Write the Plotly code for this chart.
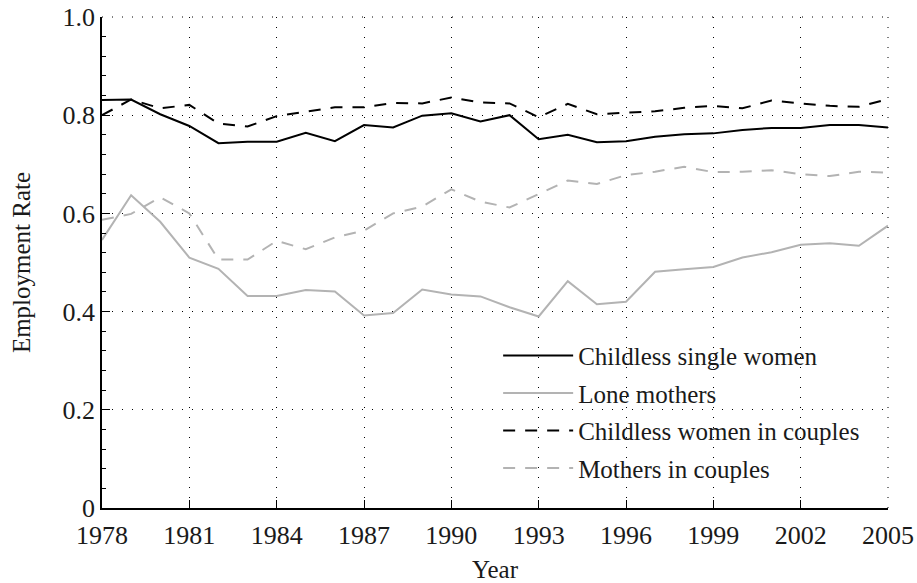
import plotly.graph_objects as go

years = list(range(1978, 2006))

childless_single = [0.831, 0.832, 0.802, 0.778, 0.743, 0.746, 0.746, 0.764, 0.747, 0.780,
                    0.775, 0.799, 0.804, 0.787, 0.800, 0.751, 0.760, 0.745, 0.747, 0.756,
                    0.761, 0.763, 0.770, 0.774, 0.774, 0.780, 0.780, 0.775]
lone_mothers = [0.546, 0.637, 0.583, 0.510, 0.487, 0.432, 0.432, 0.444, 0.441, 0.392,
                0.397, 0.445, 0.435, 0.431, 0.409, 0.390, 0.462, 0.415, 0.420, 0.481,
                0.486, 0.491, 0.510, 0.521, 0.536, 0.539, 0.534, 0.575]
childless_couples = [0.800, 0.832, 0.814, 0.821, 0.783, 0.777, 0.798, 0.807, 0.816, 0.816,
                     0.825, 0.824, 0.836, 0.826, 0.824, 0.796, 0.823, 0.802, 0.805, 0.808,
                     0.815, 0.819, 0.814, 0.830, 0.824, 0.819, 0.817, 0.833]
mothers_couples = [0.587, 0.599, 0.633, 0.600, 0.506, 0.506, 0.544, 0.527, 0.551, 0.565,
                   0.600, 0.614, 0.649, 0.624, 0.612, 0.640, 0.667, 0.660, 0.678, 0.685,
                   0.695, 0.684, 0.685, 0.688, 0.680, 0.676, 0.685, 0.683]

series_names = ["Childless single women", "Lone mothers",
                "Childless women in couples", "Mothers in couples"]
series_values = [childless_single, lone_mothers, childless_couples, mothers_couples]
series_colors = ["#000000", "#b3b3b3", "#000000", "#b3b3b3"]
series_dash = ["solid", "solid", "12px,10px", "12px,10px"]

x_ticks = list(range(1978, 2006, 3))
y_ticks = [0, 0.2, 0.4, 0.6, 0.8, 1.0]
y_ticktext = ["0", "0.2", "0.4", "0.6", "0.8", "1.0"]

FONT = "Liberation Serif"
FS = 25
TICK_FS = 26
TXT = "#1a1a1a"

fig = go.Figure()
for i, (name, vals, col, dsh) in enumerate(zip(series_names, series_values, series_colors, series_dash)):
    fig.add_trace(go.Scatter(
        x=years, y=vals, mode="lines", name=name, legendgroup=f"g{i}",
        line=dict(color=col, width=2, dash=dsh),
    ))

axis_common = dict(
    showline=True, linecolor="black", linewidth=1.5,
    ticks="inside", tickcolor="black", tickwidth=1, ticklen=8,
    showgrid=True, gridcolor="black", gridwidth=1, griddash="1px,9px",
    zeroline=False, mirror=False, automargin=False, ticklabeloverflow="allow",
    tickfont=dict(family=FONT, size=TICK_FS, color=TXT),
)

fig.update_xaxes(
    range=[1978, 2005], tickvals=x_ticks, ticklabelstandoff=3,
    title=dict(text="Year", font=dict(family=FONT, size=FS, color=TXT), standoff=20),
    **axis_common,
)
fig.update_yaxes(
    range=[0, 1], tickvals=y_ticks, ticktext=y_ticktext,
    title=dict(text="Employment Rate", font=dict(family=FONT, size=FS, color=TXT), standoff=25),
    minor=dict(dtick=0.04, tick0=0, ticks="inside", ticklen=4, tickcolor="black", showgrid=False),
    **axis_common,
)

# dotted frame at top and right (styling only)
fig.add_shape(type="line", xref="paper", yref="paper", x0=0, x1=1, y0=1, y1=1,
              line=dict(color="black", width=1, dash="1px,9px"))
fig.add_shape(type="line", xref="paper", yref="paper", x0=1, x1=1, y0=0, y1=1,
              line=dict(color="black", width=1, dash="1px,9px"))

fig.update_layout(
    width=917, height=583,
    margin=dict(l=102, r=29, t=17, b=75, autoexpand=False),
    paper_bgcolor="white", plot_bgcolor="white",
    font=dict(family=FONT, size=FS, color=TXT),
    showlegend=True,
    legend=dict(
        x=0.504, y=0.357, xanchor="left", yanchor="top",
        bgcolor="rgba(0,0,0,0)", borderwidth=0,
        font=dict(family=FONT, size=FS, color=TXT),
        traceorder="grouped", tracegroupgap=2, itemwidth=70,
    ),
)

# remove the default page margin so the 917x583 figure fills the window exactly
fig.write_html("out.html", config={"displayModeBar": False},
               post_script="document.body.style.margin='0';")
